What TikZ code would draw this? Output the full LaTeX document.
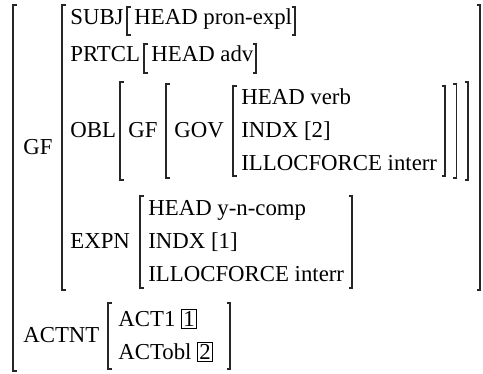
\documentclass[tikz,border=0pt]{standalone}
\usepackage{fontspec}
\setmainfont{Liberation Serif}
\usetikzlibrary{positioning}
\newcommand{\avmfont}{\fontsize{11.4}{13}\selectfont}
% left / right bracket: x, top y, bottom y
\newcommand{\lbrk}[3]{\draw[brk] ({#1+3.5},#2) -- (#1,#2) -- (#1,#3) -- ({#1+3.5},#3);}
\newcommand{\rbrk}[3]{\draw[brk] ({#1-3.5},#2) -- (#1,#2) -- (#1,#3) -- ({#1-3.5},#3);}
\tikzset{
  attr/.style = {anchor=base west, inner sep=0pt, font=\avmfont},
  tagbox/.style = {draw, line width=0.5pt, inner sep=1pt, font=\avmfont},
  brk/.style  = {line width=0.6pt, draw=black!85}
}

\begin{document}
\begin{tikzpicture}[x=0.5pt, y=-0.5pt]
  \useasboundingbox (0,0) rectangle (483,374);
  % outer matrix
  \lbrk{13}{5}{371}
  \node[attr] (gf) at (23,155) {GF};
  \node[attr] (actnt) at (23,343) {ACTNT};
  % value of GF
  \lbrk{62}{5}{290}
  \rbrk{480}{5}{290}
  \node[attr] (subj) at (70,25) {SUBJ};
  \lbrk{127}{7}{35}
  \node[attr] (subjhead) at (134,25) {HEAD pron-expl};
  \rbrk{295}{7}{35}
  \node[attr] (prtcl) at (70,62) {PRTCL};
  \lbrk{144}{44}{73}
  \node[attr] (prtclhead) at (151,62) {HEAD adv};
  \rbrk{256}{44}{73}
  % OBL
  \node[attr] (obl) at (70,138) {OBL};
  \lbrk{120}{82}{180}
  \node[attr] (oblgf) at (128,138) {GF};
  \lbrk{166}{84}{178}
  \node[attr] (gov) at (174,138) {GOV};
  \lbrk{233}{86}{176}
  \node[attr] (govhead) at (241,105) {HEAD verb};
  \node[attr] (govindx) at (241,138) {INDX [2]};
  \node[attr] (govillo) at (241,171) {ILLOCFORCE interr};
  \rbrk{445}{86}{176}
  \rbrk{456.5}{84}{178}
  \rbrk{468}{82}{180}
  % EXPN
  \node[attr] (expn) at (70,249) {EXPN};
  \lbrk{140}{196}{288}
  \node[attr] (expnhead) at (148,216) {HEAD y-n-comp};
  \node[attr] (expnindx) at (148,249) {INDX [1]};
  \node[attr] (expnillo) at (148,282) {ILLOCFORCE interr};
  \rbrk{352}{196}{288}
  % value of ACTNT
  \lbrk{108}{303}{369}
  \node[attr] (act1) at (118,327) {ACT1};
  \node[tagbox, base right=2.5pt of act1] (tag1) {1};
  \node[attr] (actobl) at (118,360) {ACTobl};
  \node[tagbox, base right=2.5pt of actobl] (tag2) {2};
  \rbrk{230}{303}{369}
\end{tikzpicture}
\end{document}
